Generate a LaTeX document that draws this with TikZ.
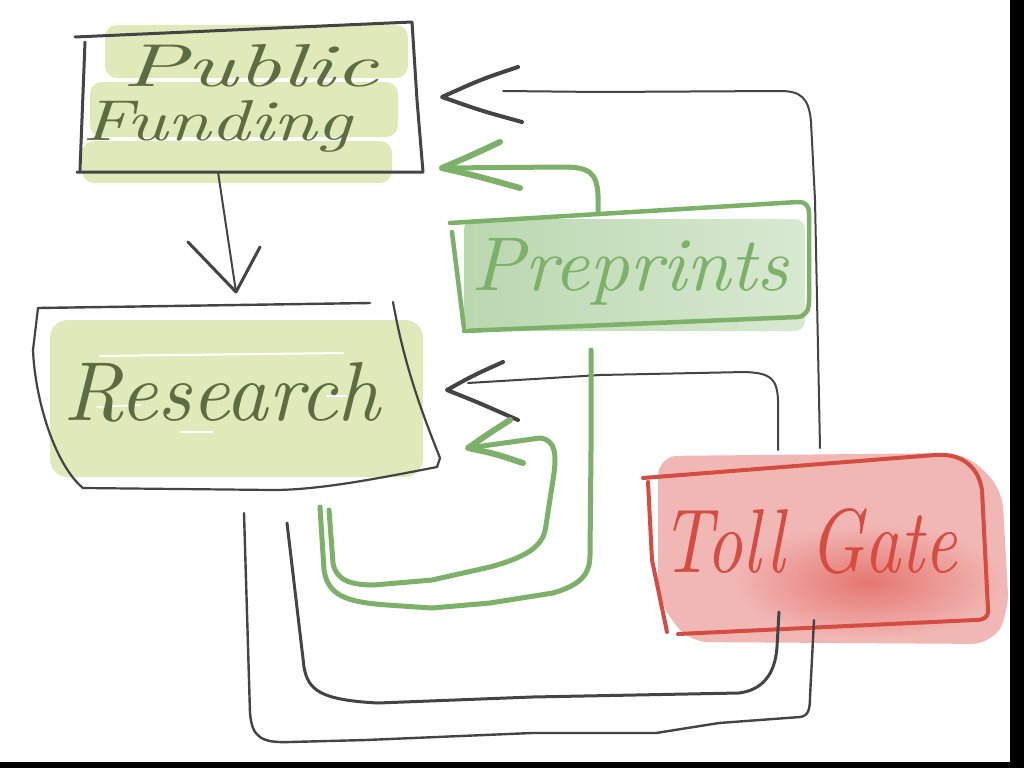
\documentclass[tikz,border=0pt]{standalone}
\usepackage{graphicx}
\usetikzlibrary{calc}
\definecolor{ink}{RGB}{68,68,68}
\definecolor{inkgreen}{RGB}{93,108,66}
\definecolor{pffill}{RGB}{223,233,185}
\definecolor{ppline}{RGB}{125,176,105}
\definecolor{ppfillA}{RGB}{186,215,176}
\definecolor{ppfillB}{RGB}{216,233,209}
\definecolor{tgline}{RGB}{212,76,66}
\definecolor{tgfill}{RGB}{241,183,181}
\definecolor{tgspot}{RGB}{230,118,112}
\begin{document}
\begin{tikzpicture}[x=1pt,y=-1pt, line cap=round, line join=round,
  anchorbox/.style={draw=none, inner sep=0pt, outer sep=0pt, rectangle},
  handtext/.style={inner sep=0pt, outer sep=0pt, anchor=base west},
  inkline/.style={draw=ink, line width=2pt},
  inkhead/.style={draw=ink, line width=4pt},
  grnline/.style={draw=ppline, line width=5pt},
  grnhead/.style={draw=ppline, line width=6pt},
  boxink/.style={draw=ink, line width=3pt},
  boxgrn/.style={draw=ppline, line width=4.5pt},
  boxred/.style={draw=tgline, line width=4pt}]
\useasboundingbox (0,0) rectangle (1024,768);
\fill[white] (0,0) rectangle (1024,768);

% ---- anchor nodes for the boxes
\node[anchorbox, minimum width=346pt, minimum height=150pt] (pf) at (250,97) {};
\node[anchorbox, minimum width=404pt, minimum height=186pt] (rs) at (238,396) {};
\node[anchorbox, minimum width=358pt, minimum height=130pt] (pp) at (631,267) {};
\node[anchorbox, minimum width=346pt, minimum height=180pt] (tg) at (817,545) {};

% ---- watercolour fills
\fill[pffill, rounded corners=12pt] (105,25) rectangle (408,78);
\fill[pffill, rounded corners=12pt] (90,82) rectangle (398,137);
\fill[pffill, rounded corners=12pt] (82,141) rectangle (392,183);

\fill[pffill, rounded corners=18pt] (50,320) rectangle (423,477);
\draw[white, line width=2pt] (100,356) -- (343,353);
\draw[white, line width=1.5pt] (97,407) -- (140,405);
\draw[white, line width=1.5pt] (327,396) -- (347,396);
\draw[white, line width=1.5pt] (180,432) -- (213,432);

\shade[left color=ppfillA, right color=ppfillB, rounded corners=10pt] (464,219) rectangle (805,331);

\fill[tgfill, rounded corners=20pt] (658,456) -- (965,453) -- (1002,488) -- (1009,612) -- (992,644) -- (688,642) -- (658,600) -- cycle;
\shade[inner color=tgspot, outer color=tgfill] (868,582) ellipse [x radius=136, y radius=58];

% ---- box outlines
\draw[boxink] (75,37) -- (412,22) -- (417,100) -- (423,172) -- (77,172);
\draw[boxink] (85,42) -- (80,170);

\draw[ink, line width=2.4pt] (38,308) -- (370,303);
\draw[ink, line width=2.2pt] (393,302) .. controls (405,370) and (425,420) .. (440,458) -- (437,467)
  .. controls (380,478) and (320,490) .. (273,490) -- (83,488)
  .. controls (55,465) and (35,400) .. (33,350) -- (38,308);

\draw[boxgrn] (450,223) -- (798,202) .. controls (806,202) and (809,206) .. (809,214) -- (809,300)
  .. controls (809,310) and (806,316) .. (798,317) -- (464,331);
\draw[boxgrn] (452,232) -- (464,328);

\draw[boxred] (643,478) -- (935,455) .. controls (960,453) and (978,465) .. (982,490) -- (988,610)
  .. controls (988,618) and (984,620) .. (975,620) -- (678,634);
\draw[boxred] (648,482) -- (652,560) -- (667,632);

% ---- connectors
% Public Funding -> Research
\draw[inkline] ($(pf.south)+(-32,0)$) -- ($(rs.north)+(-2,-11)$) coordinate (hA);
\draw[inkhead, line width=3pt] ($(hA)+(-48,-50)$) -- (hA) -- ($(hA)+(24,-45)$);

% Toll Gate -> Public Funding
\draw[inkline] ($(tg.north)+(3,-7)$) -- (815,200) -- (811,122) .. controls (809,97) and (800,91) .. (780,91) -- (600,92) -- (503,91);
\coordinate (hB) at ($(pf.east)+(19,0)$);
\draw[inkhead] ($(hB)+(76,-30)$) .. controls ($(hB)+(40,-18)$) .. (hB) .. controls ($(hB)+(40,14)$) .. ($(hB)+(80,25)$);

% Preprints -> Public Funding
\draw[grnline] ($(pp.north)+(-33,11)$) -- (598,195) .. controls (597,172) and (588,167) .. (563,167) -- ($(pf.south east)+(19,-4)$) coordinate (hC);
\draw[grnhead] ($(hC)+(58,-26)$) .. controls ($(hC)+(28,-12)$) .. (hC) .. controls ($(hC)+(35,8)$) .. ($(hC)+(78,20)$);

% Toll Gate -> Research
\draw[inkline] ($(tg.north)+(-39,-5)$) -- (778,400) .. controls (777,378) and (770,373) .. (745,372) -- (600,375) -- (468,383);
\coordinate (hD) at ($(rs.east)+(7,-6)$);
\draw[inkhead] ($(hD)+(56,-28)$) .. controls ($(hD)+(25,-14)$) .. (hD) .. controls ($(hD)+(30,12)$) .. ($(hD)+(71,30)$);

% Research -> Research (inner green loop)
\draw[grnline] ($(rs.south)+(91,21)$) -- (333,563) .. controls (336,580) and (350,585) .. (374,585) -- (432,580) -- (490,567)
  .. controls (530,556) and (544,545) .. (546,525) -- (553,480) .. controls (557,455) and (556,440) .. (540,438)
  -- ($(rs.south east)+(28,-41)$) coordinate (hE);
\draw[grnhead] ($(hE)+(42,-28)$) .. controls ($(hE)+(20,-14)$) .. (hE) .. controls ($(hE)+(28,6)$) .. ($(hE)+(55,15)$);

% Research -> Preprints (outer green)
\draw[grnline] ($(rs.south)+(82,18)$) -- (324,570) .. controls (328,595) and (345,602) .. (387,605) -- (432,608) -- (490,603) -- (553,593)
  .. controls (580,585) and (590,575) .. (590,555) -- (591,450) -- ($(pp.south)+(-40,18)$);

% Research -> Toll Gate (inner black)
\draw[inkline, line width=3pt] ($(rs.south)+(49,34)$) -- (304,667) .. controls (308,690) and (320,700) .. (378,703) -- (532,697) -- (739,693)
  .. controls (762,690) and (775,675) .. (777,647) -- ($(tg.south)+(-38,-23)$);

% Research -> Toll Gate (outer black)
\draw[inkline, line width=2.4pt] ($(rs.south)+(6,24)$) -- (250,713) .. controls (252,738) and (262,743) .. (290,742) -- (366,740) -- (532,733) -- (656,733) -- (719,723) -- (800,717)
  .. controls (808,716) and (810,710) .. (810,697) -- ($(tg.south)+(-3,-15)$);

% ---- texts
\node[handtext, text=inkgreen] (tPublic) at (122,86) {\resizebox{256pt}{42pt}{\itshape Public}};
\node[handtext, text=inkgreen] (tFunding) at (82,140) {\resizebox{270pt}{40pt}{\itshape Funding}};
\node[handtext, text=inkgreen] (tResearch) at (63,420) {\resizebox{317pt}{58pt}{\itshape Research}};
\node[handtext, text=ppline] (tPreprints) at (471,290) {\resizebox{317pt}{52pt}{\itshape Preprints}};
\node[handtext, text=tgline] (tToll) at (661,572) {\resizebox{296pt}{64pt}{\itshape Toll Gate}};

% ---- scan border
\fill[black] (1010,0) rectangle (1024,768);
\fill[black] (0,762) rectangle (1024,768);
\end{tikzpicture}
\end{document}
